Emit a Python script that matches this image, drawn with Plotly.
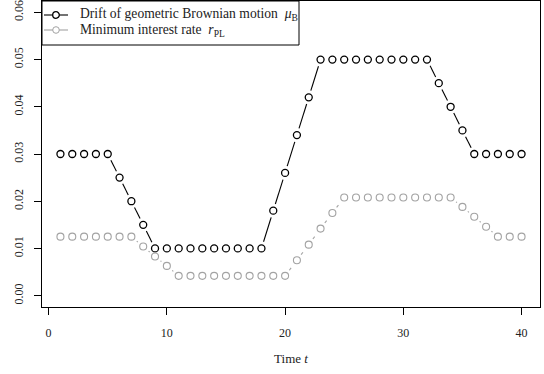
import numpy as np
import plotly.graph_objects as go

# ---- data ----
t = list(range(1, 41))
mu_B = [0.03, 0.03, 0.03, 0.03, 0.03, 0.025, 0.02, 0.015,
        0.01, 0.01, 0.01, 0.01, 0.01, 0.01, 0.01, 0.01, 0.01, 0.01,
        0.018, 0.026, 0.034, 0.042,
        0.05, 0.05, 0.05, 0.05, 0.05, 0.05, 0.05, 0.05, 0.05, 0.05,
        0.045, 0.04, 0.035,
        0.03, 0.03, 0.03, 0.03, 0.03]
r_PL = [0.0125, 0.0125, 0.0125, 0.0125, 0.0125, 0.0125, 0.0125,
        0.0104, 0.0083, 0.0063,
        0.0042, 0.0042, 0.0042, 0.0042, 0.0042, 0.0042, 0.0042, 0.0042, 0.0042, 0.0042,
        0.0075, 0.0108, 0.0142, 0.0175,
        0.0208, 0.0208, 0.0208, 0.0208, 0.0208, 0.0208, 0.0208, 0.0208, 0.0208, 0.0208,
        0.0188, 0.0167, 0.0146,
        0.0125, 0.0125, 0.0125]
x_ticks = [0, 10, 20, 30, 40]
y_ticks = [0.00, 0.01, 0.02, 0.03, 0.04, 0.05, 0.06]
y_ticklabels = ["0.00", "0.01", "0.02", "0.03", "0.04", "0.05", "0.06"]
series_names = ["Drift of geometric Brownian motion\u2002<i>μ</i><sub>B</sub>",
                "Minimum interest rate\u2002<i>r</i><sub>PL</sub>"]

# ---- layout geometry ----
W, H = 544, 374
ML, MR, MT, MB = 42, 4, 1, 67
PW, PH = W - ML - MR, H - MT - MB
xr = [-0.56, 41.56]
yr = [-0.0024, 0.0624]
sx = PW / (xr[1] - xr[0])
sy = PH / (yr[1] - yr[0])
GAP = 7.0  # px gap around points (R type="b")


def gapped(xs, ys):
    gx, gy = [], []
    for i in range(len(xs) - 1):
        dxp = (xs[i + 1] - xs[i]) * sx
        dyp = (ys[i + 1] - ys[i]) * sy
        d = float(np.hypot(dxp, dyp))
        if d > 2 * GAP:
            f = GAP / d
            gx += [xs[i] + (xs[i + 1] - xs[i]) * f, xs[i + 1] - (xs[i + 1] - xs[i]) * f, None]
            gy += [ys[i] + (ys[i + 1] - ys[i]) * f, ys[i + 1] - (ys[i + 1] - ys[i]) * f, None]
    return gx, gy


def px_x(p):
    return (p - ML) / PW


def px_y(p):
    return (MT + PH - p) / PH


BLACK = "#000000"
GRAY = "#a3a3a3"
TXT = "#222222"
FONT = "Liberation Serif"

fig = go.Figure()
bx, by = gapped(t, mu_B)
gx, gy = gapped(t, r_PL)

fig.add_trace(go.Scatter(x=bx, y=by, mode="lines", line=dict(color=BLACK, width=1.1),
                         showlegend=False, hoverinfo="skip"))
fig.add_trace(go.Scatter(x=t, y=mu_B, mode="markers", name="mu_B",
                         marker=dict(symbol="circle-open", size=7, color=BLACK, line=dict(width=1.3)),
                         showlegend=False))
fig.add_trace(go.Scatter(x=gx, y=gy, mode="lines", line=dict(color=GRAY, width=1.1, dash="dot"),
                         showlegend=False, hoverinfo="skip"))
fig.add_trace(go.Scatter(x=t, y=r_PL, mode="markers", name="r_PL",
                         marker=dict(symbol="circle-open", size=7, color=GRAY, line=dict(width=1.1)),
                         showlegend=False))

# ---- legend (R-style box) ----
shapes = [dict(type="rect", xref="paper", yref="paper",
               x0=0, x1=px_x(299), y0=px_y(45), y1=1,
               line=dict(color="black", width=1), fillcolor="white", layer="above")]
annotations = []
rows = [(15, BLACK, 1.3), (30, GRAY, 1.0)]
for (py, col, lw), name in zip(rows, series_names):
    shapes.append(dict(type="line", xref="paper", yref="paper",
                       x0=px_x(44), x1=px_x(68), y0=px_y(py), y1=px_y(py),
                       line=dict(color=col, width=1.1), layer="above"))
    shapes.append(dict(type="circle", xref="paper", yref="paper",
                       xsizemode="pixel", ysizemode="pixel",
                       xanchor=px_x(56), yanchor=px_y(py),
                       x0=-3.3, x1=3.3, y0=-3.3, y1=3.3,
                       line=dict(color=col, width=lw), fillcolor="white", layer="above"))
    annotations.append(dict(xref="paper", yref="paper", x=px_x(78), y=px_y(py),
                            xanchor="left", yanchor="middle", showarrow=False,
                            text=name, font=dict(family=FONT, size=13.6, color=TXT)))

fig.update_layout(
    width=W, height=H,
    margin=dict(l=ML, r=MR, t=MT, b=MB),
    paper_bgcolor="white", plot_bgcolor="white",
    font=dict(family=FONT, size=12, color=TXT),
    showlegend=False,
    shapes=shapes, annotations=annotations,
    xaxis=dict(range=xr, tickvals=x_ticks, ticks="outside", ticklen=7, tickwidth=1,
               tickcolor="black", showline=True, linecolor="black", linewidth=1, mirror=True,
               showgrid=False, zeroline=False, ticklabelstandoff=8,
               tickfont=dict(family=FONT, size=12, color=TXT),
               title=dict(text="Time <i>t</i>", standoff=14,
                          font=dict(family=FONT, size=13, color=TXT))),
    yaxis=dict(range=yr, tickvals=y_ticks, ticktext=y_ticklabels, ticks="outside", ticklen=7,
               tickwidth=1, tickcolor="black", showline=True, linecolor="black", linewidth=1,
               mirror=True, showgrid=False, zeroline=False, tickangle=-90, ticklabelstandoff=6,
               tickfont=dict(family=FONT, size=12, color=TXT)),
)

fig.write_html("out.html")
